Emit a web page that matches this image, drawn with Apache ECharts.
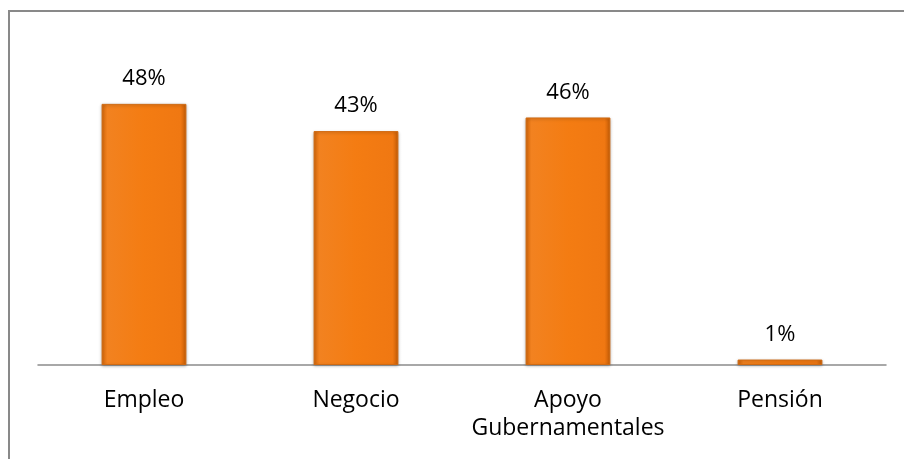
<!DOCTYPE html>
<html>
<head>
<meta charset="utf-8">
<script src="https://cdn.jsdelivr.net/npm/echarts@6/dist/echarts.min.js"></script>
<style>
html,body{margin:0;padding:0;background:#fff;}
#chart{width:904px;height:459px;}
</style>
</head>
<body>
<div id="chart"></div>
<script>
const categories = ['Empleo', 'Negocio', 'Apoyo\nGubernamentales', 'Pensión'];
const values = [48, 43, 45.5, 1];

const chart = echarts.init(document.getElementById('chart'));
const font = '"Open Sans", sans-serif';
chart.setOption({
  animation: false,
  backgroundColor: '#fff',
  graphic: [{
    type: 'polyline',
    shape: { points: [[9, 460], [9, 11], [905, 11]] },
    style: { stroke: '#898989', lineWidth: 2, fill: null },
    silent: true
  }],
  grid: { left: 38, right: 18, top: 38.6, bottom: 94 },
  xAxis: {
    type: 'category',
    data: categories,
    axisLine: { lineStyle: { color: '#8c8c8c', width: 1.5 } },
    axisTick: { show: false },
    axisLabel: {
      fontFamily: font, fontSize: 23, color: '#000',
      lineHeight: 28.5, margin: 21, interval: 0
    }
  },
  yAxis: {
    type: 'value', min: 0, max: 60,
    show: false,
    splitLine: { show: false }
  },
  series: [{
    type: 'bar',
    data: values,
    barWidth: '40%',
    itemStyle: {
      color: new echarts.graphic.LinearGradient(0, 0, 1, 0, [
        { offset: 0, color: '#D2660A' },
        { offset: 0.07, color: '#F28220' },
        { offset: 0.5, color: '#F47C12' },
        { offset: 0.93, color: '#F07812' },
        { offset: 1, color: '#C85E06' }
      ]),
      borderColor: '#D06A12',
      borderWidth: 1,
      shadowColor: 'rgba(0,0,0,0.25)',
      shadowBlur: 3,
      shadowOffsetY: 1
    },
    label: {
      show: true,
      position: 'top',
      distance: 14,
      fontFamily: font, fontSize: 22, color: '#000',
      formatter: p => Math.round(p.value) + '%'
    }
  }]
});
</script>
</body>
</html>
